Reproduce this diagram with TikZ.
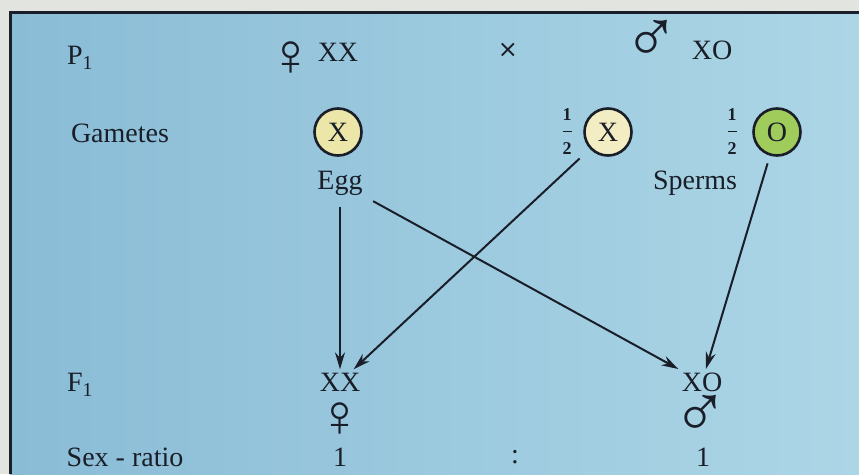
\documentclass[tikz,border=0pt]{standalone}
\usepackage{fontspec}
\setmainfont{Liberation Serif}
\newfontfamily\symfont{DejaVu Sans}
\usetikzlibrary{arrows.meta}
\definecolor{paper}{RGB}{226,228,224}
\definecolor{bgdark}{RGB}{138,188,214}
\definecolor{bglight}{RGB}{172,214,230}
\definecolor{eggfill}{RGB}{236,230,168}
\definecolor{ofill}{RGB}{160,204,92}
\definecolor{ink}{RGB}{25,30,40}
\newcommand{\halfnum}{$\displaystyle\frac{\mbox{\fontsize{18}{18}\selectfont\bfseries 1}}{\mbox{\fontsize{18}{18}\selectfont\bfseries 2}}$}
\begin{document}
\begin{tikzpicture}[x=1pt, y=-1pt, font=\fontsize{28}{32}\selectfont, text=ink,
  gamete/.style={draw=ink, circle, line width=2.6pt, minimum size=47pt, inner sep=0pt},
  femsym/.style={font=\fontsize{60}{62}\selectfont, inner sep=0pt, text height=30pt, text depth=0pt},
  malesym/.style={font=\fontsize{75}{77}\selectfont, inner sep=0pt, text height=34pt, text depth=0pt},
  link/.style={->, draw=ink, line width=2pt, >={Stealth[length=17pt,width=10pt]}, shorten <=8pt}]
\useasboundingbox (0,0) rectangle (859,474);
\fill[paper] (0,0) rectangle (859,474);
\shade[left color=bgdark, right color=bglight] (10,12) rectangle (859,474);
\draw[ink, line width=3pt] (10,474) -- (10,12) -- (859,12);
% parents
\node (p1) at (80,58) {P\textsubscript{1}};
\node[femsym] (pfem) at (291,60) {♀};
\node (pxx) at (338,52) {XX};
\node[font=\symfont\fontsize{24}{26}\selectfont] (cross) at (508,50) {×};
\node[malesym] (pmale) at (652,45) {♂};
\node (pxo) at (712,50) {XO};
% gametes
\node (gam) at (120,133) {Gametes};
\node[gamete, fill=eggfill] (egg) at (338,132) {X};
\node (egglab) at (340,183) {Egg};
\node (halfx) at (567,132) {\halfnum};
\node[gamete, fill=eggfill!70!white] (spx) at (608,132) {X};
\node (halfo) at (732,132) {\halfnum};
\node[gamete, fill=ofill] (spo) at (777,132) {O};
\node (sperm) at (695,183) {Sperms};
% offspring
\node (f1) at (80,385) {F\textsubscript{1}};
\node (fxx) at (340,382) {XX};
\node[femsym] (ffem) at (340,421) {♀};
\node (fxo) at (702,382) {XO};
\node[malesym] (fmale) at (701,420) {♂};
\node (sr) at (125,457) {Sex - ratio};
\node (r1) at (340,457) {1};
\node (rc) at (515,457) {:};
\node (r2) at (703,457) {1};
\draw[link] (egglab) -- (fxx);
\draw[link] (egglab) -- (fxo);
\draw[link, shorten <=14pt] (spx) -- (fxx);
\draw[link] (spo) -- (fxo);
\end{tikzpicture}
\end{document}
